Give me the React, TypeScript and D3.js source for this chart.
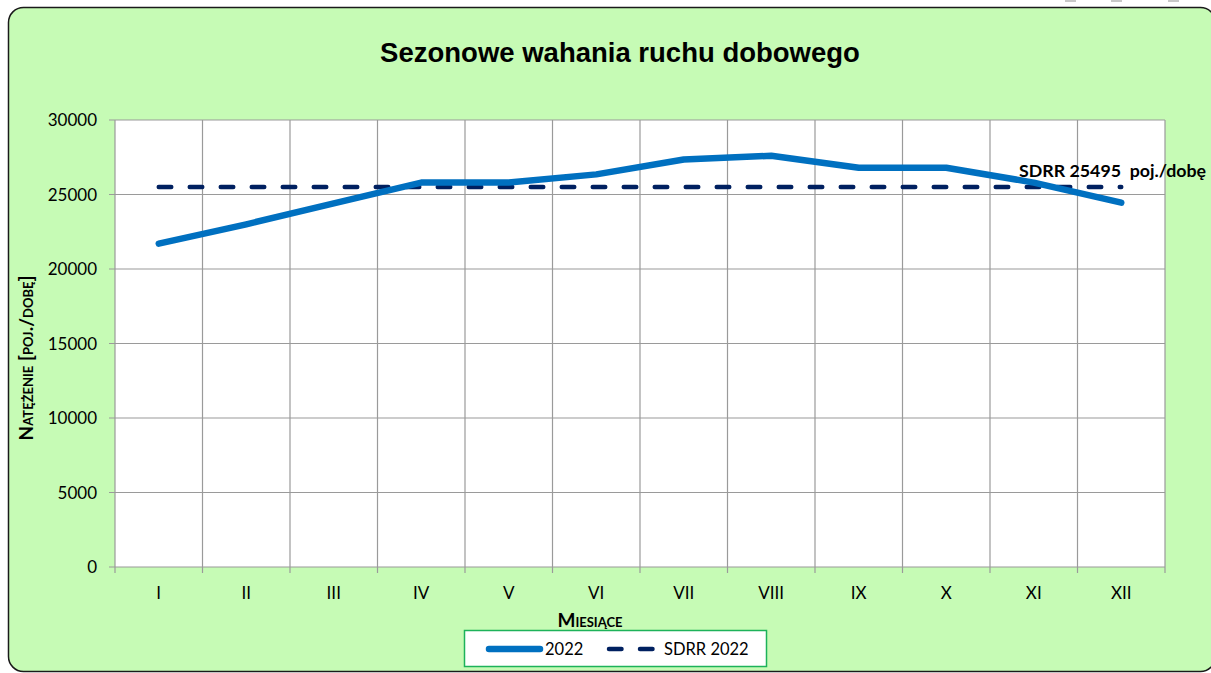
import * as d3 from 'd3';
import React, { useEffect, useRef } from 'react';

// dane
const months = ['I', 'II', 'III', 'IV', 'V', 'VI', 'VII', 'VIII', 'IX', 'X', 'XI', 'XII'];
const traffic2022 = [21700, 23000, 24400, 25800, 25800, 26350, 27350, 27600, 26800, 26800, 25800, 24450];
const sdrr2022 = 25495;
const yTicks = [0, 5000, 10000, 15000, 20000, 25000, 30000];

const W = 1211;
const H = 673;
const margin = { left: 115, right: 1165, top: 120, bottom: 567 };

const BG = '#C6FBB5';
const BLUE = '#0070C0';
const NAVY = '#002060';
const GRID = '#9a9a9a';
const FONT = 'Lato, "Open Sans", sans-serif';

export default function App() {
    const svgRef = useRef<SVGSVGElement>(null);

    useEffect(() => {
        const svg = d3.select(svgRef.current);
        svg.selectAll('*').remove();

        const x = d3.scaleBand().domain(months).range([margin.left, margin.right]);
        const y = d3.scaleLinear().domain([0, 30000]).range([margin.bottom, margin.top]);
        const cx = (m: string) => (x(m) as number) + x.bandwidth() / 2;

        // ramka wykresu (prawa krawędź wychodzi poza kadr)
        svg.append('rect')
            .attr('x', 8.5).attr('y', 7.5)
            .attr('width', 1207).attr('height', 664)
            .attr('rx', 15)
            .attr('fill', BG)
            .attr('stroke', '#1a1a1a')
            .attr('stroke-width', 1.5);

        // uchwyty zaznaczenia u góry
        [1065, 1111, 1168].forEach((hx) => {
            svg.append('rect').attr('x', hx).attr('y', 0).attr('width', 11).attr('height', 2).attr('fill', '#c8c8c8');
        });

        svg.append('text')
            .attr('x', 620).attr('y', 62)
            .attr('text-anchor', 'middle')
            .attr('font-family', '"Liberation Sans", Arial, sans-serif')
            .attr('font-weight', 'bold')
            .attr('font-size', 27.5)
            .text('Sezonowe wahania ruchu dobowego');

        // obszar kreślenia
        svg.append('rect')
            .attr('x', margin.left).attr('y', margin.top)
            .attr('width', margin.right - margin.left)
            .attr('height', margin.bottom - margin.top)
            .attr('fill', '#fff');

        const grid = svg.append('g').attr('stroke', GRID).attr('stroke-width', 1.2);
        yTicks.forEach((t) => {
            grid.append('line')
                .attr('x1', margin.left - 6).attr('x2', margin.right)
                .attr('y1', y(t)).attr('y2', y(t));
        });
        const bounds = months.map((m) => x(m) as number).concat([margin.right]);
        bounds.forEach((b) => {
            grid.append('line')
                .attr('x1', b).attr('x2', b)
                .attr('y1', margin.top)
                .attr('y2', margin.bottom + 6);
        });

        // etykiety osi Y
        svg.append('g')
            .selectAll('text')
            .data(yTicks)
            .join('text')
            .attr('x', 97).attr('y', (d) => y(d))
            .attr('dy', '0.36em')
            .attr('text-anchor', 'end')
            .attr('font-family', FONT)
            .attr('font-size', 17)
            .text((d) => d);

        // etykiety osi X
        svg.append('g')
            .selectAll('text')
            .data(months)
            .join('text')
            .attr('x', (d) => cx(d)).attr('y', 599)
            .attr('text-anchor', 'middle')
            .attr('font-family', FONT)
            .attr('font-size', 17)
            .text((d) => d);

        svg.append('text')
            .attr('x', 590).attr('y', 627)
            .attr('text-anchor', 'middle')
            .attr('font-family', FONT)
            .attr('font-weight', 'bold')
            .attr('font-size', 19)
            .style('font-variant', 'small-caps')
            .text('Miesiące');

        svg.append('text')
            .attr('transform', 'translate(33,358) rotate(-90)')
            .attr('text-anchor', 'middle')
            .attr('font-family', FONT)
            .attr('font-weight', 'bold')
            .attr('font-size', 19)
            .style('font-variant', 'small-caps')
            .text('Natężenie [poj./dobę]');

        // SDRR - linia przerywana
        svg.append('line')
            .attr('x1', cx(months[0])).attr('x2', cx(months[months.length - 1]))
            .attr('y1', y(sdrr2022)).attr('y2', y(sdrr2022))
            .attr('stroke', NAVY)
            .attr('stroke-width', 4.5)
            .attr('stroke-linecap', 'round')
            .attr('stroke-dasharray', '12.5 18.5');

        // seria 2022
        const line = d3.line<number>()
            .x((_, i) => cx(months[i]))
            .y((d) => y(d));
        svg.append('path')
            .datum(traffic2022)
            .attr('d', line)
            .attr('fill', 'none')
            .attr('stroke', BLUE)
            .attr('stroke-width', 6.5)
            .attr('stroke-linecap', 'round')
            .attr('stroke-linejoin', 'round');

        svg.append('text')
            .attr('x', 1019).attr('y', 177)
            .attr('font-family', FONT)
            .attr('font-weight', 'bold')
            .attr('font-size', 17.8)
            .style('white-space', 'pre')
            .text(`SDRR ${sdrr2022}  poj./dobę`);

        // legenda
        const lg = svg.append('g');
        lg.append('rect')
            .attr('x', 464.5).attr('y', 630.5)
            .attr('width', 302).attr('height', 36)
            .attr('fill', '#fff')
            .attr('stroke', '#1DB25A')
            .attr('stroke-width', 1.5);
        lg.append('line')
            .attr('x1', 489).attr('x2', 540).attr('y1', 649).attr('y2', 649)
            .attr('stroke', BLUE).attr('stroke-width', 6.5).attr('stroke-linecap', 'round');
        lg.append('text')
            .attr('x', 545).attr('y', 649).attr('dy', '0.36em')
            .attr('font-family', FONT).attr('font-size', 16.5)
            .text('2022');
        lg.append('line')
            .attr('x1', 609).attr('x2', 656).attr('y1', 649).attr('y2', 649)
            .attr('stroke', NAVY).attr('stroke-width', 4.5).attr('stroke-linecap', 'round')
            .attr('stroke-dasharray', '12.5 18.5');
        lg.append('text')
            .attr('x', 664).attr('y', 649).attr('dy', '0.36em')
            .attr('font-family', FONT).attr('font-size', 16.5)
            .text('SDRR 2022');
    }, []);

    return (
        <div style={{ position: 'absolute', left: 0, top: 0, width: W, height: H, overflow: 'hidden', background: '#fff' }}>
            <svg ref={svgRef} width={W} height={H} />
        </div>
    );
}
